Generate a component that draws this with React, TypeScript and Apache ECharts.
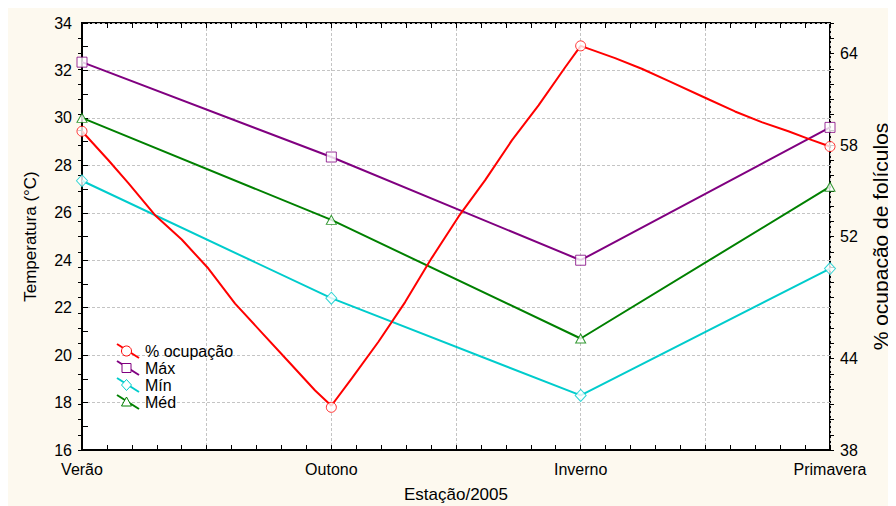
import React, { useEffect, useRef } from 'react';
import * as echarts from 'echarts';

// Seasons on the x axis (positions 0..3)
const seasons = ['Verão', 'Outono', 'Inverno', 'Primavera'];
const seasonPos = [0, 1, 2, 3];

// Temperature (°C), left axis
const tempMax = [32.35, 28.35, 24.0, 29.6];
const tempMin = [27.35, 22.4, 18.3, 23.65];
const tempMed = [30.0, 25.7, 20.7, 27.1];

// % follicle occupancy, right axis
const occupancy = [58.9, 40.8, 64.5, 57.9];

// Fitted occupancy curve, sampled along the season axis
const occupancyCurveX = [
  0, 0.106, 0.186, 0.293, 0.4, 0.507, 0.614, 0.721, 0.828, 0.935, 1.0,
  1.082, 1.189, 1.296, 1.403, 1.51, 1.617, 1.724, 1.831, 1.938, 2.0,
  2.138, 2.245, 2.352, 2.499, 2.619, 2.726, 2.833, 2.914, 3.0,
];
const occupancyCurveY = [
  58.9, 57.0, 55.5, 53.4, 51.8, 49.9, 47.6, 45.7, 43.8, 41.9, 40.9,
  42.7, 45.1, 47.7, 50.6, 53.3, 55.7, 58.3, 60.6, 63.1, 64.5,
  63.7, 63.0, 62.2, 61.1, 60.2, 59.5, 58.9, 58.4, 57.9,
];

// Right-axis tick labels that are printed
const rightTickLabels = [38, 44, 52, 58, 64];

const FONT = '"Liberation Sans", Arial, Helvetica, sans-serif';
const C_RED = '#ff0000';
const C_PURPLE = '#800080';
const C_CYAN = '#00cccc';
const C_GREEN = '#008000';

const zip = (xs: number[], ys: number[]) => xs.map((x, i) => [x, ys[i]]);

function legendMarker(kind: string, cx: number, cy: number, color: string) {
  const style = { fill: '#ffffff', stroke: color, lineWidth: 1 };
  if (kind === 'circle') return { type: 'circle', shape: { cx, cy, r: 5 }, style };
  if (kind === 'rect') return { type: 'rect', shape: { x: cx - 4.5, y: cy - 4.5, width: 9, height: 9 }, style };
  if (kind === 'diamond')
    return { type: 'polygon', shape: { points: [[cx, cy - 5.5], [cx + 5, cy], [cx, cy + 5.5], [cx - 5, cy]] }, style };
  return { type: 'polygon', shape: { points: [[cx, cy - 5], [cx + 5, cy + 4], [cx - 5, cy + 4]] }, style };
}

export default function App() {
  const ref = useRef<HTMLDivElement>(null);

  useEffect(() => {
    if (!ref.current) return;
    const chart = echarts.init(ref.current, null, { renderer: 'svg' });

    const legendItems = [
      { name: '% ocupação', color: C_RED, kind: 'circle' },
      { name: 'Máx', color: C_PURPLE, kind: 'rect' },
      { name: 'Mín', color: C_CYAN, kind: 'diamond' },
      { name: 'Méd', color: C_GREEN, kind: 'triangle' },
    ];

    const legendGraphics: any[] = [];
    legendItems.forEach((it, i) => {
      const yc = 343 + i * 17;
      legendGraphics.push({
        type: 'line',
        shape: { x1: 109, y1: yc - 7, x2: 131, y2: yc + 7 },
        style: { stroke: it.color, lineWidth: 2 },
        z: 10,
      });
      legendGraphics.push({ ...legendMarker(it.kind, 118.5, yc, it.color), z: 11 });
      legendGraphics.push({
        type: 'text',
        x: 137,
        y: yc,
        style: {
          text: it.name,
          fill: '#000',
          font: `16px ${FONT}`,
          verticalAlign: 'middle',
          align: 'left',
        },
        z: 11,
      });
    });

    const tickBlack = { color: '#000', width: 1 };
    const gridDash = { color: '#c4c4c4', type: [3, 2] as any, width: 1 };

    const lineSeries = (name: string, data: number[][], color: string, yAxisIndex = 0) => ({
      name,
      type: 'line',
      data,
      yAxisIndex,
      symbol: 'none',
      smooth: false,
      lineStyle: { color, width: 2 },
      z: 3,
    });
    const markerSeries = (name: string, data: number[][], color: string, symbol: string, size: any, yAxisIndex = 0) => ({
      name: name + ' marcador',
      type: 'scatter',
      data,
      yAxisIndex,
      symbol,
      symbolSize: size,
      itemStyle: { color: '#ffffff', borderColor: color, borderWidth: 1 },
      z: 4,
    });

    chart.setOption({
      animation: false,
      backgroundColor: 'transparent',
      textStyle: { fontFamily: FONT },
      grid: {
        left: 74,
        top: 15,
        right: 66,
        bottom: 56,
        show: true,
        backgroundColor: '#ffffff',
        borderColor: '#000',
        borderWidth: 2,
        containLabel: false,
        outerBoundsMode: 'none',
      },
      xAxis: [
        {
          type: 'value',
          min: 0,
          max: 3,
          interval: 0.5,
          name: 'Estação/2005',
          nameLocation: 'middle',
          nameGap: 36,
          nameTextStyle: { fontSize: 17, color: '#000', fontFamily: FONT },
          axisLine: { show: true, lineStyle: { color: '#000', width: 2 } },
          axisTick: { show: true, inside: true, length: 5, lineStyle: tickBlack },
          minorTick: { show: true, splitNumber: 5, length: 5, lineStyle: tickBlack },
          splitLine: { show: true, lineStyle: gridDash },
          axisLabel: {
            fontSize: 16,
            color: '#000',
            fontFamily: FONT,
            margin: 11,
            formatter: (v: number) => {
              const i = seasonPos.indexOf(v);
              return i >= 0 ? seasons[i] : '';
            },
          },
        },
        {
          type: 'value',
          position: 'top',
          min: 0,
          max: 3,
          interval: 0.5,
          axisLine: { show: false },
          axisTick: { show: true, inside: true, length: 5, lineStyle: tickBlack },
          minorTick: { show: true, splitNumber: 5, length: 5, lineStyle: tickBlack },
          splitLine: { show: false },
          axisLabel: { show: false },
        },
      ],
      yAxis: [
        {
          type: 'value',
          min: 16,
          max: 34,
          interval: 2,
          name: 'Temperatura (°C)',
          nameLocation: 'middle',
          nameRotate: 90,
          nameGap: 43,
          nameTextStyle: { fontSize: 17, color: '#000', fontFamily: FONT },
          axisLine: { show: true, lineStyle: { color: '#000', width: 2 } },
          axisTick: { show: true, inside: true, length: 6, lineStyle: tickBlack },
          minorTick: { show: true, splitNumber: 2, length: 6, lineStyle: tickBlack },
          splitLine: { show: true, lineStyle: gridDash },
          axisLabel: { fontSize: 16, color: '#000', fontFamily: FONT, margin: 10 },
        },
        {
          type: 'value',
          position: 'right',
          min: 38,
          max: 66,
          interval: 1,
          name: '% ocupação de folículos',
          nameLocation: 'middle',
          nameRotate: 90,
          nameGap: 40,
          nameTextStyle: { fontSize: 21, color: '#000', fontFamily: FONT },
          axisLine: { show: true, lineStyle: { color: '#000', width: 2 } },
          axisTick: { show: true, inside: true, length: 4, lineStyle: tickBlack },
          splitLine: { show: false },
          axisLabel: {
            fontSize: 16,
            color: '#000',
            fontFamily: FONT,
            margin: 10,
            showMaxLabel: false,
            formatter: (v: number) => (rightTickLabels.includes(v) ? String(v) : ''),
          },
        },
        {
          type: 'value',
          position: 'right',
          min: 38,
          max: 66,
          interval: 1,
          axisLine: { show: false },
          axisTick: { show: true, inside: false, length: 4, lineStyle: tickBlack },
          splitLine: { show: false },
          axisLabel: { show: false },
        },
      ],
      series: [
        lineSeries('Máx', zip(seasonPos, tempMax), C_PURPLE),
        lineSeries('Méd', zip(seasonPos, tempMed), C_GREEN),
        lineSeries('Mín', zip(seasonPos, tempMin), C_CYAN),
        lineSeries('% ocupação', zip(occupancyCurveX, occupancyCurveY), C_RED, 1),
        markerSeries('Máx', zip(seasonPos, tempMax), C_PURPLE, 'rect', 10),
        markerSeries('Méd', zip(seasonPos, tempMed), C_GREEN, 'triangle', [10, 9]),
        markerSeries('Mín', zip(seasonPos, tempMin), C_CYAN, 'diamond', [11, 12]),
        markerSeries('% ocupação', zip(seasonPos, occupancy), C_RED, 'circle', 10, 1),
      ],
      graphic: legendGraphics,
    });

    return () => chart.dispose();
  }, []);

  return (
    <div
      ref={ref}
      style={{ width: 888, height: 498, background: '#fdf9ef' }}
    />
  );
}
